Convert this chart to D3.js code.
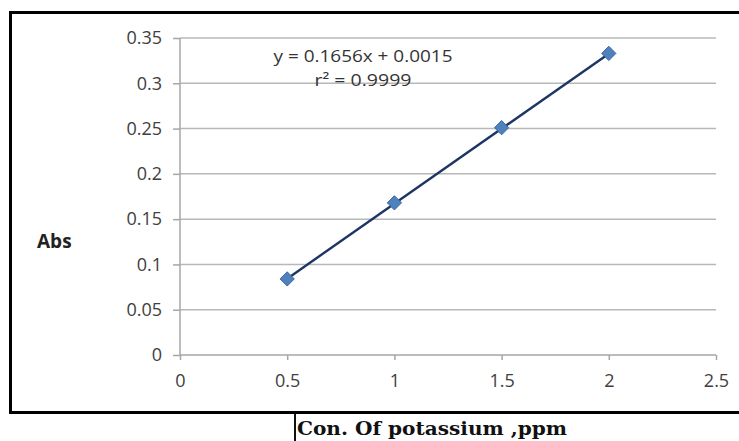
<!DOCTYPE html>
<html>
<head>
<meta charset="utf-8">
<script src="https://cdn.jsdelivr.net/npm/d3@7"></script>
<style>
  body { margin: 0; background: #fff; }
  svg { display: block; }
</style>
</head>
<body>
<svg></svg>
<script>
// data
var conc = [0.5, 1, 1.5, 2];
var absValues = [0.084, 0.168, 0.251, 0.333];
var xTicks = [0, 0.5, 1, 1.5, 2, 2.5];
var yTicks = [0, 0.05, 0.1, 0.15, 0.2, 0.25, 0.3, 0.35];
var fit = [0.1656, 0.0015]; // slope, intercept
var eqLines = ["y = 0.1656x + 0.0015", "r² = 0.9999"];
var eqWidths = [179, 97];

var svgWidth = 739, svgHeight = 441;
var svg = d3.select("svg")
    .attr("width", svgWidth)
    .attr("height", svgHeight);

var x = d3.scaleLinear().domain([0, 2.5]).range([180, 716]);
var y = d3.scaleLinear().domain([0, 0.35]).range([355, 38]);

// frame (no right edge visible)
svg.append("path")
    .attr("d", "M739,12.5 L10.5,12.5 L10.5,412.5 L739,412.5")
    .attr("fill", "none")
    .attr("stroke", "#000")
    .attr("stroke-width", 3);

// grid lines
svg.selectAll("line.grid")
    .data(yTicks.slice(1))
    .enter()
    .append("line")
    .attr("class", "grid")
    .attr("x1", x(0))
    .attr("x2", x(2.5))
    .attr("y1", function(d) { return y(d); })
    .attr("y2", function(d) { return y(d); })
    .attr("stroke", "#b8b8b8")
    .attr("stroke-width", 1.5);

// axes
var yAxis = d3.axisLeft(y)
    .tickValues(yTicks)
    .tickSize(7)
    .tickPadding(11)
    .tickFormat(function(d) { return d3.format("")(+d.toFixed(2)); });
var xAxis = d3.axisBottom(x)
    .tickValues(xTicks)
    .tickSize(6)
    .tickPadding(13)
    .tickFormat(function(d) { return d3.format("")(d); });

var gy = svg.append("g").attr("transform", "translate(" + x(0) + ",0)").call(yAxis);
var gx = svg.append("g").attr("transform", "translate(0," + y(0) + ")").call(xAxis);

[gx, gy].forEach(function(g) {
    g.select(".domain").attr("stroke", "#a6a6a6").attr("stroke-width", 1.5)
        .attr("d", g === gx ? "M" + x(0) + ",0H" + x(2.5) : "M0," + y(0) + "V" + y(0.35));
    g.selectAll(".tick line").attr("stroke", "#a6a6a6").attr("stroke-width", 1.5);
    g.selectAll(".tick text")
        .attr("fill", "#404040")
        .style("font-family", "'Open Sans', sans-serif")
        .style("font-size", "18px");
});
gx.selectAll(".tick line").attr("y2", 5);

// trendline
var line = d3.line()
    .x(function(d) { return x(d); })
    .y(function(d) { return y(fit[0] * d + fit[1]); });
svg.append("path")
    .datum([conc[0], conc[conc.length - 1]])
    .attr("d", line)
    .attr("fill", "none")
    .attr("stroke", "#1c3564")
    .attr("stroke-width", 2.4);

// markers
svg.selectAll("path.pt")
    .data(conc)
    .enter()
    .append("path")
    .attr("class", "pt")
    .attr("d", d3.symbol().type(d3.symbolDiamond2).size(130))
    .attr("transform", function(d, i) {
        return "translate(" + x(d) + "," + y(absValues[i]) + ")";
    })
    .attr("fill", "#4f81bd")
    .attr("stroke", "#3a6aa5")
    .attr("stroke-width", 1);

// equation
svg.selectAll("text.eq")
    .data(eqLines)
    .enter()
    .append("text")
    .attr("class", "eq")
    .attr("x", 363)
    .attr("y", function(d, i) { return 62 + i * 24; })
    .attr("text-anchor", "middle")
    .attr("fill", "#333")
    .attr("textLength", function(d, i) { return eqWidths[i]; })
    .attr("lengthAdjust", "spacingAndGlyphs")
    .style("font-family", "'Open Sans', sans-serif")
    .style("font-size", "17px")
    .text(function(d) { return d; });

// y label
svg.append("text")
    .attr("x", 37)
    .attr("y", 248)
    .attr("fill", "#222")
    .style("font-family", "'Open Sans', sans-serif")
    .style("font-weight", "bold")
    .style("font-size", "19px")
    .text("Abs");

// x label with text cursor
svg.append("line")
    .attr("x1", 295).attr("x2", 295)
    .attr("y1", 414).attr("y2", 441)
    .attr("stroke", "#111")
    .attr("stroke-width", 2);
svg.append("text")
    .attr("x", 297)
    .attr("y", 435)
    .attr("fill", "#111")
    .attr("textLength", 270)
    .attr("lengthAdjust", "spacingAndGlyphs")
    .style("font-family", "'DejaVu Serif', serif")
    .style("font-weight", "bold")
    .style("font-size", "19px")
    .text("Con. Of potassium ,ppm");
</script>
</body>
</html>
